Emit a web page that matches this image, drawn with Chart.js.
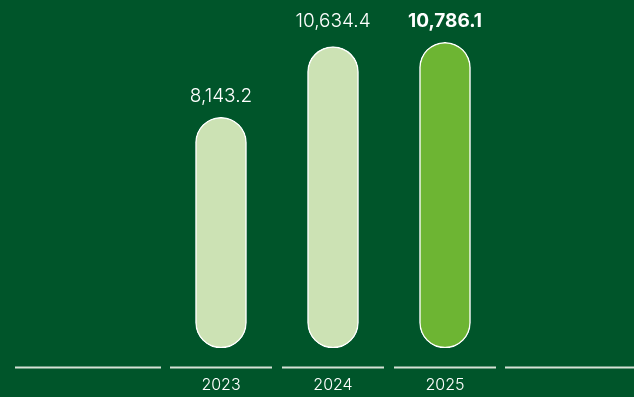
<!DOCTYPE html>
<html>
<head>
<meta charset="utf-8">
<script src="https://cdn.jsdelivr.net/npm/chart.js@4"></script>
<style>
  html, body { margin: 0; padding: 0; background: #00552a; }
  #wrap { width: 634px; height: 397px; }
</style>
</head>
<body>
<div id="wrap"><canvas id="revenueChart" width="634" height="397"></canvas></div>
<script>
const years = ['2023', '2024', '2025'];
const revenue = [8143.2, 10634.4, 10786.1];
const barColors = ['#cce2b4', '#cce2b4', '#6db533'];
const boldLabel = [false, false, true];

const ctx = document.getElementById('revenueChart');

// value labels above each bar; labels close to the tallest one share its row
const valueLabels = {
    id: 'valueLabels',
    afterDatasetsDraw(chart) {
        const c = chart.ctx;
        const bars = chart.getDatasetMeta(0).data;
        const topY = Math.min(...bars.map(b => b.y));
        c.save();
        c.fillStyle = '#ffffff';
        c.textAlign = 'center';
        c.textBaseline = 'alphabetic';
        bars.forEach((bar, i) => {
            let y = bar.y - 15;
            if (bar.y - topY < 10) y = topY - 15;
            c.font = (boldLabel[i] ? '700 ' : '300 ') + '19px Inter';
            const txt = revenue[i].toLocaleString('en-US', { minimumFractionDigits: 1 });
            c.fillText(txt, bar.x, y);
        });
        c.restore();
    }
};

// broken baseline: one segment under each category plus runs to the edges
const baseline = {
    id: 'baseline',
    beforeDatasetsDraw(chart) {
        const c = chart.ctx;
        const x = chart.scales.x;
        const half = 51, gap = 9, y = 367.5;
        c.save();
        c.strokeStyle = '#d5e2d6';
        c.lineWidth = 2;
        c.beginPath();
        const centers = years.map((_, i) => x.getPixelForValue(i));
        centers.forEach(cx => {
            c.moveTo(cx - half, y);
            c.lineTo(cx + half, y);
        });
        c.moveTo(15, y);
        c.lineTo(centers[0] - half - gap, y);
        c.moveTo(centers[centers.length - 1] + half + gap, y);
        c.lineTo(chart.width, y);
        c.stroke();
        c.restore();
    }
};

new Chart(ctx, {
    type: 'bar',
    data: {
        labels: years,
        datasets: [{
            data: revenue,
            backgroundColor: barColors,
            borderColor: '#ffffff',
            borderWidth: 1.5,
            borderRadius: 26,
            borderSkipped: false,
            barThickness: 51
        }]
    },
    options: {
        responsive: false,
        animation: false,
        layout: { padding: { left: 165, right: 133, top: 8, bottom: 2 } },
        plugins: { legend: { display: false }, tooltip: { enabled: false } },
        scales: {
            x: {
                grid: { display: false, drawTicks: false },
                border: { display: false },
                ticks: { color: '#ffffff', padding: 28, font: { family: 'Inter', size: 16, weight: 300 } },
                afterFit(scale) { scale.height = 47; }
            },
            y: {
                display: false,
                min: 0,
                max: 12000
            }
        }
    },
    plugins: [baseline, valueLabels]
});
</script>
</body>
</html>
